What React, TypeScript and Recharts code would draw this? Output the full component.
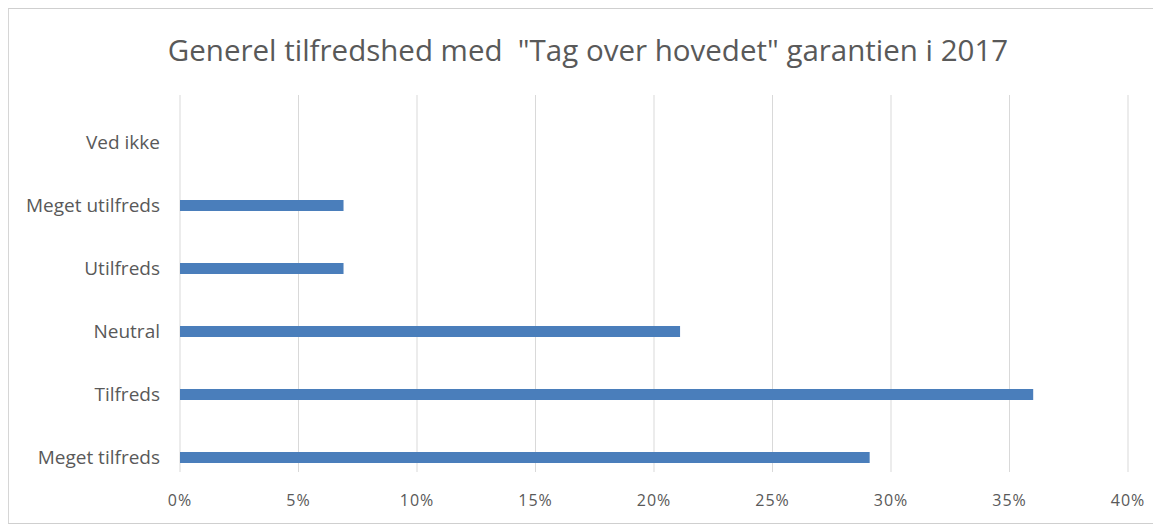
import React from 'react';
import { BarChart, Bar, XAxis, YAxis, CartesianGrid } from 'recharts';

// Survey answers, top to bottom as shown
const categories = [
  'Ved ikke',
  'Meget utilfreds',
  'Utilfreds',
  'Neutral',
  'Tilfreds',
  'Meget tilfreds',
];
const shares = [0, 6.9, 6.9, 21.1, 36.0, 29.1];
const xTicks = [0, 5, 10, 15, 20, 25, 30, 35, 40];

const title = 'Generel tilfredshed med  "Tag over hovedet" garantien i 2017';

const chartData = categories.map((name, i) => ({ name, value: shares[i] }));

const FONT = '"Open Sans", "Liberation Sans", sans-serif';
const TEXT = '#595959';

const App: React.FC = () => {
  return (
    <div
      style={{
        position: 'relative',
        width: 1152,
        height: 514,
        marginLeft: -1,
        borderTop: '1px solid #cfcfcf',
        borderBottom: '1px solid #cfcfcf',
        borderLeft: '2px solid #d6d6d6',
        background: '#fff',
        fontFamily: FONT,
        overflow: 'hidden',
      }}
    >
      <div
        style={{
          position: 'absolute',
          top: 20,
          left: 3,
          width: 1152,
          textAlign: 'center',
          fontSize: 29.5,
          color: TEXT,
          whiteSpace: 'pre',
        }}
      >
        {title}
      </div>
      <BarChart
        width={1152}
        height={514}
        data={chartData}
        layout="vertical"
        margin={{ top: 102, right: 33, left: 0, bottom: 4 }}
        style={{ position: 'absolute', top: 0, left: 0 }}
      >
        <CartesianGrid
          horizontal={false}
          stroke="#d9d9d9"
          y={86}
          height={377}
        />
        <XAxis
          type="number"
          domain={[0, 40]}
          ticks={xTicks}
          tickFormatter={(v) => `${v}%`}
          axisLine={false}
          tickLine={false}
          tickSize={0}
          tickMargin={6}
          height={30}
          tick={{ fill: TEXT, fontSize: 16, fontFamily: FONT, letterSpacing: 1 }}
        />
        <YAxis
          type="category"
          dataKey="name"
          width={171}
          axisLine={false}
          tickLine={false}
          tickSize={0}
          tickMargin={20}
          tick={{ fill: TEXT, fontSize: 19, fontFamily: FONT }}
        />
        <Bar
          dataKey="value"
          fill="#4a7ebb"
          barSize={11}
          isAnimationActive={false}
        />
      </BarChart>
    </div>
  );
};

export default App;
